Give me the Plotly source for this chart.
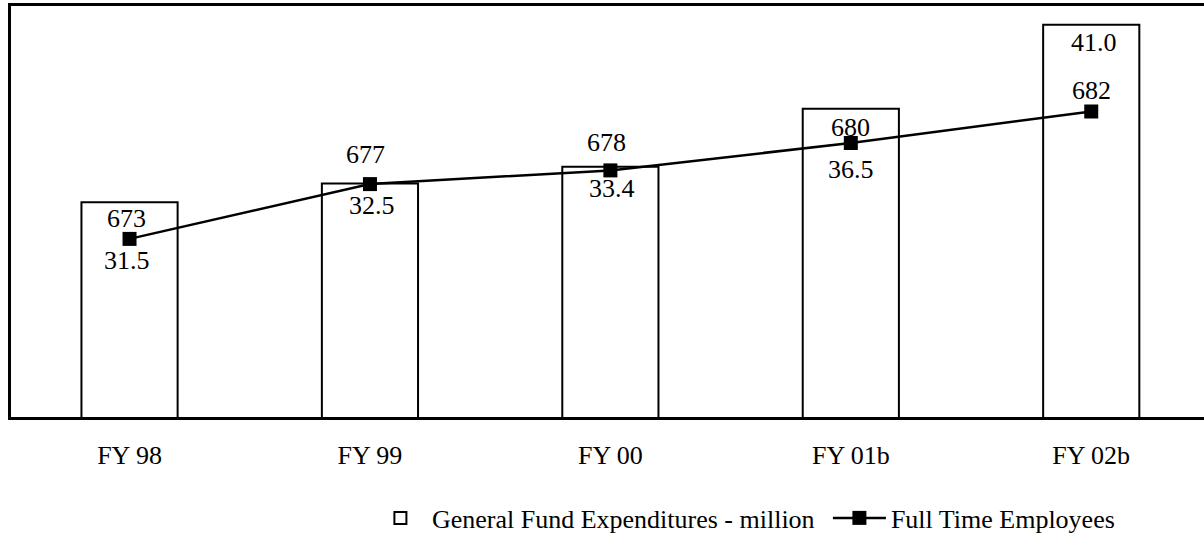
import plotly.graph_objects as go

categories = ["FY 98", "FY 99", "FY 00", "FY 01b", "FY 02b"]
expenditures = [31.5, 32.5, 33.4, 36.5, 41.0]
employees = [673, 677, 678, 680, 682.3]
expenditure_labels = ["31.5", "32.5", "33.4", "36.5", "41.0"]
employee_labels = ["673", "677", "678", "680", "682"]

FONT = "Liberation Serif, Times New Roman, serif"
FS = 26

# label offsets (style): pixels
bar_lab_dy = [-58, -22, -21.6, -60.7, -17.7]
bar_lab_dx = [-2.5, 2, 1.7, 0, 2.5]
emp_lab_dy = [20.7, 30, 28, 16, 21]
emp_lab_dx = [-3, -4, -4, 0, 0]

fig = go.Figure()
fig.add_trace(go.Bar(
    x=categories, y=expenditures, base=0,
    name="General Fund Expenditures - million",
    marker=dict(color="white", line=dict(color="black", width=2)),
    width=0.4, yaxis="y",
))
fig.add_trace(go.Scatter(
    x=categories, y=employees, name="Full Time Employees",
    mode="lines+markers", yaxis="y2",
    line=dict(color="black", width=2.5),
    marker=dict(symbol="square", size=14, color="black"),
))

ann = []
for i, c in enumerate(categories):
    ann.append(dict(x=c, y=expenditures[i], xref="x", yref="y", text=expenditure_labels[i],
                    showarrow=False, yshift=bar_lab_dy[i], xshift=bar_lab_dx[i],
                    font=dict(family=FONT, size=FS, color="black")))
    ann.append(dict(x=c, y=employees[i], xref="x", yref="y2", text=employee_labels[i],
                    showarrow=False, yshift=emp_lab_dy[i], xshift=emp_lab_dx[i],
                    font=dict(family=FONT, size=FS, color="black")))

fig.update_layout(
    width=1204, height=533,
    margin=dict(l=11, r=0, t=6, b=116, autoexpand=False),
    paper_bgcolor="white", plot_bgcolor="white",
    font=dict(family=FONT, size=FS, color="black"),
    showlegend=True,
    legend=dict(orientation="h", x=0.3, xanchor="left", y=-0.2457, yanchor="middle",
                font=dict(family=FONT, size=FS, color="black"), itemwidth=53,
                entrywidth=391, bgcolor="rgba(0,0,0,0)"),
    xaxis=dict(range=[-0.493, 4.469], showline=True, linecolor="black", linewidth=2.5,
               mirror=True, showgrid=False, zeroline=False, ticks="",
               ticklabelstandoff=13, tickfont=dict(family=FONT, size=FS, color="black")),
    yaxis=dict(range=[20, 42], showline=True, linecolor="black", linewidth=3,
               showgrid=False, zeroline=False, showticklabels=False, ticks=""),
    yaxis2=dict(range=[660, 690], overlaying="y", side="right", showline=False,
                showgrid=False, zeroline=False, showticklabels=False, ticks=""),
    annotations=ann,
)

fig.write_html("out.html", config={"displayModeBar": False},
               post_script="document.body.style.margin='0';document.body.style.overflow='hidden';")
